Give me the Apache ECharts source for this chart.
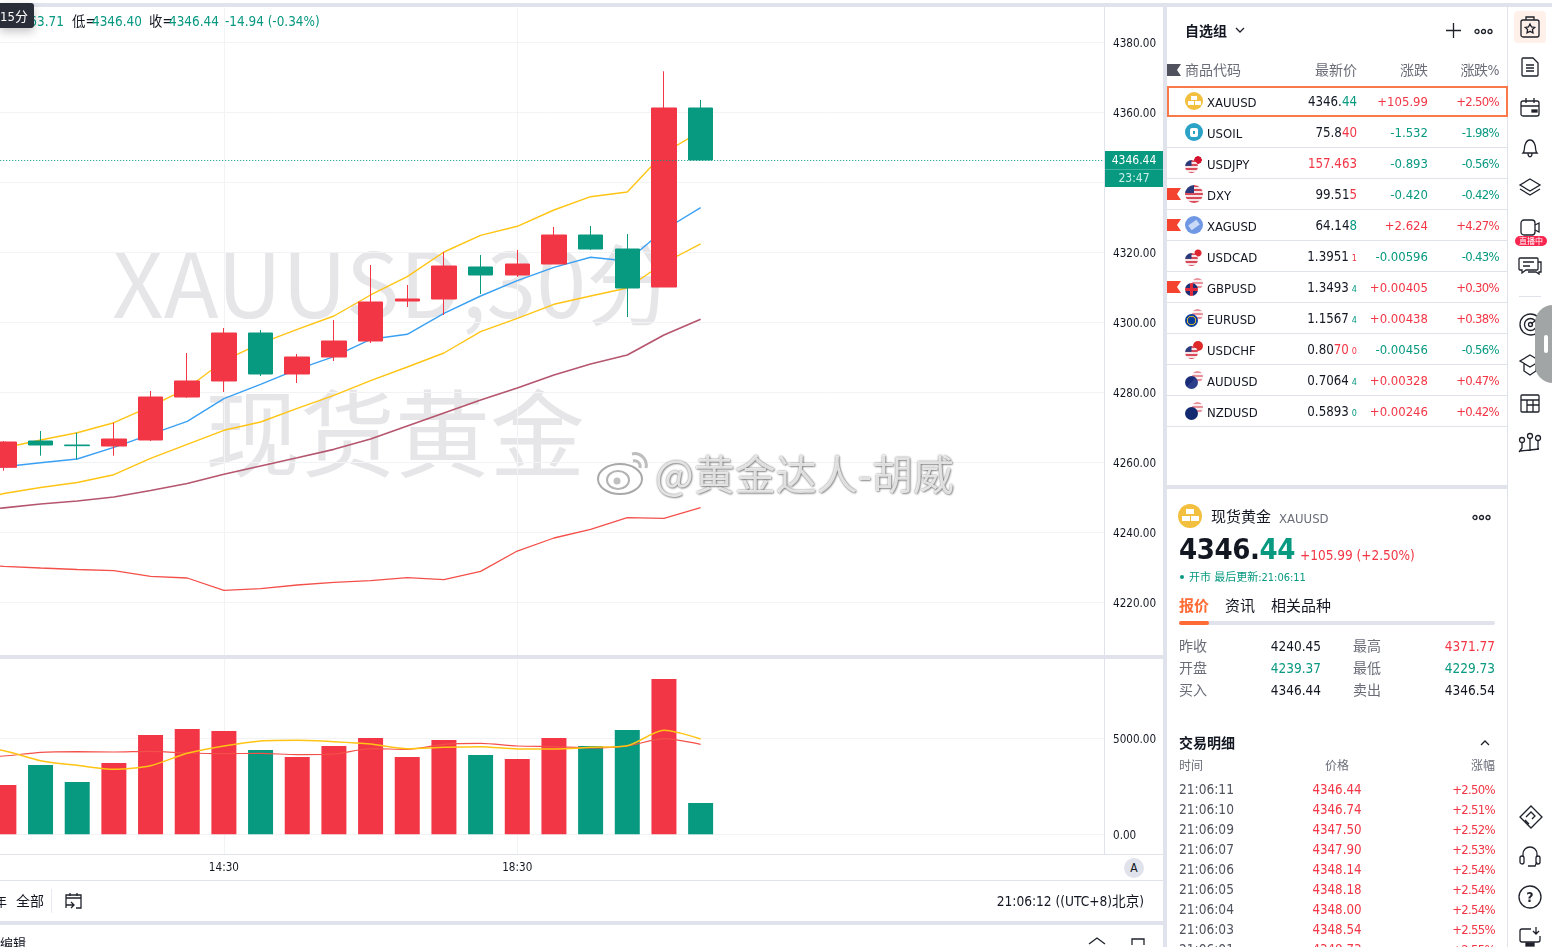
<!DOCTYPE html>
<html lang="zh">
<head>
<meta charset="utf-8">
<title>XAUUSD</title>
<script src="https://cdn.jsdelivr.net/npm/echarts@6/dist/echarts.min.js"></script>
<style>
html,body{margin:0;padding:0;width:1552px;height:947px;overflow:hidden;background:#fff;font-family:"DejaVu Sans Condensed","DejaVu Sans","Noto Sans CJK SC",sans-serif;font-stretch:condensed;color:#131722}
#mark,#chart,#ui{position:absolute;left:0;top:0;width:1552px;height:947px}
#ui{pointer-events:none}
.t{position:absolute;white-space:nowrap;transform:translateY(-50%);line-height:1}
.r{position:absolute;background:#e0e3eb}
#ui svg{position:absolute;overflow:visible}
.ic{position:absolute;border-radius:50%;overflow:hidden}
</style>
</head>
<body>
<div id="mark"></div>
<div id="chart"></div>
<div id="ui"></div>
<script>
// ----- chart data -----
const categories = ['11:00','11:30','12:00','12:30','13:00','13:30','14:00','14:30','15:00','15:30','16:00','16:30','17:00','17:30','18:00','18:30','19:00','19:30','20:00','20:30','21:00','21:30','22:00','22:30','23:00','23:30','00:00','00:30','01:00','01:30','02:00','02:30'];
const xTickLabels = ['14:30','18:30'];
const priceTicks = [4220,4240,4260,4280,4300,4320,4340,4360,4380];
const volumeTicks = [0,5000];
// [open, close, low, high]
const candles = [['-','-','-','-'],
 [4258.63,4265.86,4257.66,4266.14],[4266.14,4265.00,4261.94,4269.00],[4265.00,4264.80,4260.91,4268.51],
 [4264.71,4266.71,4261.94,4271.37],[4266.43,4278.71,4266.14,4280.43],[4278.71,4283.29,4278.51,4291.29],
 [4283.29,4297.00,4280.14,4298.43],[4297.00,4285.29,4284.71,4297.86],[4285.29,4290.14,4282.71,4291.00],
 [4290.14,4294.71,4289.00,4300.71],[4294.71,4305.86,4294.14,4316.43],[4306.14,4306.71,4304.43,4310.71],
 [4306.71,4316.14,4302.14,4320.14],[4315.86,4313.57,4308.14,4319.29],[4313.57,4316.71,4313.00,4320.71],
 [4316.71,4325.00,4316.71,4327.29],[4325.00,4321.00,4320.71,4327.57],[4321.00,4309.86,4301.57,4325.29],
 [4310.14,4361.29,4310.14,4371.77],[4361.29,4346.44,4346.40,4363.57]];
const upperBand = [4263.00,4264.14,4266.43,4268.51,4271.37,4276.06,4281.20,4289.09,4294.06,4298.06,4301.86,4307.86,4313.09,4320.14,4324.91,4327.49,4332.14,4335.94,4337.29,4348.43,4354.63];
const blueLine = [4257.86,4258.80,4259.94,4261.00,4264.34,4268.06,4271.77,4278.23,4282.34,4286.63,4290.23,4295.20,4296.63,4302.63,4307.57,4311.94,4315.77,4318.63,4317.57,4326.43,4332.80];
const lowerBand = [4248.71,4251.14,4252.86,4254.29,4256.51,4261.20,4265.20,4269.20,4271.57,4275.49,4279.20,4283.37,4287.29,4291.29,4297.37,4301.20,4305.20,4307.57,4309.86,4317.00,4322.43];
const maroonLine = [4245.86,4247.06,4248.14,4249.00,4250.14,4252.00,4254.00,4256.63,4259.00,4261.37,4263.77,4266.71,4270.43,4274.14,4277.86,4281.29,4285.00,4288.14,4290.71,4296.43,4300.91];
const redLine = [4231.00,4230.34,4229.86,4229.43,4229.09,4227.49,4227.00,4223.49,4223.94,4225.00,4225.77,4226.23,4227.09,4226.51,4228.91,4234.71,4238.43,4240.91,4244.23,4244.06,4247.09];
const volumes = ['-',2568,3609,2724,3713,5172,5484,5380,4391,4026,4599,5016,4026,4911,4130,3922,5016,4599,5432,8089,1630];
const volumeUp = [0,1,0,0,1,1,1,1,0,1,1,1,1,1,0,1,1,0,0,1,0];
const volYellow = [4500,4356,3835,3592,3384,3575,4217,4599,4860,4894,4825,4703,4460,4530,4564,4443,4443,4530,4616,5415,4964];
const volRed = [4000,4078,4269,4304,4287,4321,4235,4200,4217,4148,4182,4460,4426,4686,4738,4599,4564,4495,4599,4981,4686];
const lastPrice = 4346.44;

// ----- side panel data -----
const watchSymbols = ['XAUUSD','USOIL','USDJPY','DXY','XAGUSD','USDCAD','GBPUSD','EURUSD','USDCHF','AUDUSD','NZDUSD'];
const watchPriceParts = [['4346.','44','','g'],['75.8','40','','r'],['','157.463','','r'],['99.51','5','','r'],['64.14','8','','g'],['1.3951','','1','r'],['1.3493','','4','g'],['1.1567','','4','g'],['0.80','70','0','r'],['0.7064','','4','g'],['0.5893','','0','g']];
const watchChange = ['+105.99','-1.532','-0.893','-0.420','+2.624','-0.00596','+0.00405','+0.00438','-0.00456','+0.00328','+0.00246'];
const watchPct = ['+2.50%','-1.98%','-0.56%','-0.42%','+4.27%','-0.43%','+0.30%','+0.38%','-0.56%','+0.47%','+0.42%'];
const tradeTimes = ['21:06:11','21:06:10','21:06:09','21:06:07','21:06:06','21:06:05','21:06:04','21:06:03','21:06:01'];
const tradePrices = ['4346.44','4346.74','4347.50','4347.90','4348.14','4348.18','4348.00','4348.54','4348.73'];
const tradePct = ['+2.50%','+2.51%','+2.52%','+2.53%','+2.54%','+2.54%','+2.54%','+2.55%','+2.55%'];

const RED='#f23645', GREEN='#089981', GRID='#f2f3f5', SEP='#e0e3eb', INK='#131722';

// ----- watermarks below the chart -----
document.getElementById('mark').innerHTML =
 '<div class="t" style="left:112px;top:279px;font:400 90px \'Noto Sans CJK SC\';color:#e6e6e9">XAUUSD,30分</div>'+
 '<div class="t" style="left:205px;top:428px;font:400 95px \'Noto Sans CJK SC\';color:#e6e6e9">现货黄金</div>';

// ----- ECharts -----
const chart = echarts.init(document.getElementById('chart'), null, {renderer:'canvas', width:1552, height:947});
const gridLeft=-32.8, gridW=1136.8;
const showTick = (i)=> xTickLabels.indexOf(categories[i])>=0;
const ln = (data,color,w,xi=0)=>({type:'line',data,xAxisIndex:xi,yAxisIndex:xi,z:2,symbol:'none',silent:true,animation:false,lineStyle:{color,width:w}});
const yLabel = {margin:9,formatter:v=>'{a|'+v.toFixed(2)+'}',rich:{a:{fontSize:11.6,padding:[3,0,0,0],color:INK,fontFamily:'DejaVu Sans Condensed'}}};
chart.setOption({
 animation:false,
 grid:[{left:gridLeft,width:gridW,top:7.5,height:647.5,outerBoundsMode:'none'},{left:gridLeft,width:gridW,top:659,height:195,outerBoundsMode:'none'}],
 xAxis:[
  {type:'category',gridIndex:0,data:categories,boundaryGap:false,axisLine:{show:false},axisTick:{show:false},axisLabel:{show:false},splitLine:{show:true,interval:showTick,lineStyle:{color:GRID,width:1}}},
  {type:'category',gridIndex:1,data:categories,boundaryGap:false,axisLine:{show:false},axisTick:{show:false},axisLabel:{interval:showTick,margin:8,fontSize:11.6,color:INK,fontFamily:'DejaVu Sans Condensed'},splitLine:{show:true,interval:showTick,lineStyle:{color:GRID,width:1}}}
 ],
 yAxis:[
  {type:'value',gridIndex:0,position:'right',scale:true,min:4205,max:4390,axisLine:{show:true,lineStyle:{color:SEP,width:1}},axisTick:{show:false,customValues:priceTicks},axisLabel:Object.assign({customValues:priceTicks},yLabel),splitLine:{show:true,lineStyle:{color:GRID,width:1}}},
  {type:'value',gridIndex:1,position:'right',min:-1026,max:9130,axisLine:{show:true,lineStyle:{color:SEP,width:1}},axisTick:{show:false,customValues:volumeTicks},axisLabel:Object.assign({customValues:volumeTicks},yLabel),splitLine:{show:true,lineStyle:{color:GRID,width:1}}}
 ],
 series:[
  ln(upperBand,'#ffc414',1.4), ln(blueLine,'#3aa0f3',1.4), ln(lowerBand,'#ffc414',1.4), ln(maroonLine,'#b5566e',1.7), ln(redLine,'#f4504a',1.3),
  {type:'candlestick',xAxisIndex:0,yAxisIndex:0,z:5,data:candles,barWidth:25,silent:true,
   itemStyle:{color:RED,color0:GREEN,borderColor:RED,borderColor0:GREEN,borderWidth:1},
   markLine:{silent:true,symbol:'none',animation:false,z:6,label:{show:false},lineStyle:{color:GREEN,type:[1,2],width:1.2},data:[{yAxis:lastPrice}]}},
  {type:'bar',xAxisIndex:1,yAxisIndex:1,z:1,barWidth:25,silent:true,data:volumes.map((v,i)=>({value:v,itemStyle:{color:volumeUp[i]?RED:GREEN}}))},
  Object.assign(ln(volRed,'#f4504a',1.2,1),{smooth:0.25}),
  Object.assign(ln(volYellow,'#ffc414',1.5,1),{smooth:0.25})
 ]
});

// ----- HTML chrome -----
let h='';
const T=(x,y,s,css='',right=false)=>{h+=`<div class="t" style="${right?'right:'+(1552-x)+'px':'left:'+x+'px'};top:${y}px;${css}">${s}</div>`;};
const R=(x,y,w,ht,c=SEP,extra='')=>{h+=`<div class="r" style="left:${x}px;top:${y}px;width:${w}px;height:${ht}px;background:${c};${extra}"></div>`;};
const S=(x,y,w,ht,inner,extra='')=>{h+=`<svg style="left:${x}px;top:${y}px" width="${w}" height="${ht}" viewBox="0 0 ${w} ${ht}" fill="none" stroke="#1f222b" stroke-width="1.3" ${extra}>${inner}</svg>`;};

// frame bands
R(0,3,1552,4); R(0,655,1163,4); R(0,854,1163,1); R(0,880,1163,1); R(0,921,1163,4);
R(1163,3,4,944); R(1167,485,340,4); R(1507,7,1,940);

// legend + interval badge
const g=`color:${GREEN}`, rd=`color:${RED}`;
T(14,22,'4363.71',`font-size:13.4px;${g}`);
T(72,22,'低=',`font-size:13.4px`);T(92,22,'4346.40',`font-size:13.4px;${g}`);
T(149,22,'收=',`font-size:13.4px`);T(169,22,'4346.44',`font-size:13.4px;${g}`);
T(225,22,'-14.94 (-0.34%)',`font-size:13.4px;${g}`);
R(0,3,34,25,'#2a2e39','border-radius:0 3px 3px 0;box-shadow:0 4px 10px rgba(0,0,0,.22)');
T(0,16,'15分','font-size:13px;color:#fff');

// last price tag
R(1105,151,58,36,GREEN);R(1105,169,58,1,'#3fb39f');
T(1134,160,'<span style="display:block;transform:translateX(-50%)">4346.44</span>','font-size:12px;color:#fff');
T(1134,178,'<span style="display:block;transform:translateX(-50%)">23:47</span>','font-size:12px;color:#c9efe7');

// bottom of chart
h+=`<div style="position:absolute;left:1124px;top:858px;width:20px;height:20px;border-radius:50%;background:#e0e3eb;text-align:center;line-height:20px;font-size:12px">A</div>`;
T(-6,901,'年','font-size:13px');T(16,901,'全部','font-size:14px');R(51,889,1,24,'#e8eaef');
S(65,892,19,19,'<path d="M1 16V3h15v13h-5M5 1v3M12 1v3M1 6h15M1 13h8M6 10l3 3-3 3"/>');
T(1144,902,'21:06:12 ((UTC+8)北京)','font-size:13.6px',true);
T(0,943,'编辑','font-size:13px');
S(1088,937,18,8,'<path d="M1 7l8-6 8 6"/>');S(1131,937,14,8,'<path d="M1 8V2h12v6"/>');

// watch list header
T(1185,31,'自选组','font-size:14px;font-weight:700');
S(1235,26,10,8,'<path d="M1 2l4 4 4-4"/>');
S(1446,23,15,15,'<path d="M7.5 0v15M0 7.5h15"/>');
const dots=(x,y)=>S(x,y,19,7,'<circle cx="3" cy="3.5" r="2"/><circle cx="9.5" cy="3.5" r="2"/><circle cx="16" cy="3.5" r="2"/>');
dots(1474,28);
const flag=(y,c)=>h+=`<svg style="left:1167px;top:${y-6}px" width="14" height="12" viewBox="0 0 14 12" stroke="none"><path d="M0 0h14l-4 6 4 6H0z" fill="${c}"/></svg>`;
flag(70,'#50535e');flag(194,'#f4432f');flag(225,'#f4432f');flag(287,'#f4432f');
const H='color:#6a6d78;font-size:14px';
T(1185,70,'商品代码',H);T(1357,70,'最新价',H,true);T(1428,70,'涨跌',H,true);T(1499,70,'涨跌%',H+';letter-spacing:-.5px',true);

// icons for rows
const US='repeating-linear-gradient(180deg,#d9495a 0 2px,#f6e3e5 2px 4px)';
const flagBg={USD:US,JPY:'radial-gradient(circle,#d3132f 0 3.5px,#fff 4px)',CAD:'radial-gradient(circle,#e0242f 0 3px,#fff 4px)',GBP:'linear-gradient(90deg,transparent 42%,#e02a3c 42% 58%,transparent 58%),linear-gradient(0deg,transparent 42%,#e02a3c 42% 58%,transparent 58%),#1c2f74',EUR:'radial-gradient(circle,#0a3c9c 0 3.5px,#c9b23b 4px 4.5px,#0a3c9c 5px)',CHF:'#dd2a28',AUD:'linear-gradient(135deg,#1a2d78 50%,#2d3f8a 50%)',NZD:'#142a70'};
const US1='linear-gradient(#2b3a7a,#2b3a7a) 0 0/50% 45% no-repeat,'+US;
const circ=(x,y,d,bg,op=1)=>{h+=`<div class="ic" style="left:${x}px;top:${y}px;width:${d}px;height:${d}px;background:${bg};opacity:${op}"></div>`;};
watchSymbols.forEach((s,i)=>{
 const cy=101+31*i, xi=1185;
 if(s==='XAUUSD'){circ(xi,cy-9,18,'#f2bf3f');R(xi+6,cy-5,6,4,'#fff');R(xi+3,cy,6,4,'#fff');R(xi+9.5,cy,6,4,'#fff');}
 else if(s==='USOIL'){circ(xi,cy-9,18,'#2ba3c6');R(xi+5,cy-4.5,8,9,'#fff','border-radius:2px');R(xi+8,cy-1.5,2,3,'#2ba3c6');}
 else if(s==='XAGUSD'){circ(xi,cy-9,18,'#6f97e4');R(xi+4,cy-3,10,6,'#c9d9f7','transform:rotate(-35deg)');}
 else if(s==='DXY'){circ(xi,cy-9,18,US1);}
 else{
  const a=s.slice(0,3),b=s.slice(3);
  if(a==='USD'){circ(xi+8,cy-8,10,flagBg[b]);circ(xi,cy-3,13,US1);}
  else{circ(xi+7,cy-9,11,flagBg[b],.6);circ(xi,cy-4,13,flagBg[a]);}
 }
 T(1207,cy+1,s,'font-size:13px');
 const p=watchPriceParts[i], col=p[3]==='g'?GREEN:RED;
 T(1357,cy+1,`${p[0]}<span style="color:${col}">${p[1]}</span>${p[2]?`<span style="color:${col};font-size:9px;margin-left:3px">${p[2]}</span>`:''}`,'font-size:13.2px',true);
 const cc=watchChange[i][0]==='+'?RED:GREEN;
 T(1428,cy,watchChange[i],`font-size:13px;color:${cc}`,true);
 const pc=watchPct[i][0]==='+'?RED:GREEN;
 T(1499,cy,watchPct[i],`font-size:13px;letter-spacing:-.7px;color:${pc}`,true);
 if(i>0)R(1167,cy+15,340,1);
});
h+=`<div style="position:absolute;left:1167px;top:86px;width:337px;height:27px;border:2px solid #f9794b"></div>`;

// detail panel
circ(1178,504,24,'#f2bf3f');R(1186,509,8,5,'#fff');R(1182,516,8,5,'#fff');R(1191,516,8,5,'#fff');
T(1211,517,'现货黄金','font-size:15px');T(1279,518,'XAUUSD','font-size:13px;color:#6a6d78');
dots(1472,514);
T(1179,549,`4346.<span style="color:${GREEN}">44</span>`,'font-size:29px;font-weight:700;font-family:\'DejaVu Sans\',sans-serif;letter-spacing:-.4px');
T(1300,556,'+105.99 (+2.50%)',`font-size:13.5px;${rd}`);
circ(1180,575,4,GREEN);T(1189,577,'开市 最后更新:21:06:11',`font-size:11px;${g}`);
T(1179,606,'报价','font-size:15px;font-weight:700;color:#ff6b35');T(1225,606,'资讯','font-size:15px');T(1271,606,'相关品种','font-size:15px');
R(1179,621,316,4,'#e0e3eb','border-radius:2px');R(1179,621,30,4,'#ff6b35','border-radius:2px');
const L='font-size:14px;color:#6a6d78', V='font-size:13.5px';
[[646,'昨收','4240.45',INK,'最高','4371.77',RED],[668,'开盘','4239.37',GREEN,'最低','4229.73',GREEN],[690,'买入','4346.44',INK,'卖出','4346.54',INK]].forEach(r=>{
 T(1179,r[0],r[1],L);T(1321,r[0]+1,r[2],V+';color:'+r[3],true);T(1353,r[0],r[4],L);T(1495,r[0]+1,r[5],V+';color:'+r[6],true);
});
T(1179,743,'交易明细','font-size:14px;font-weight:700');
S(1480,740,10,6,'<path d="M1 5l4-4 4 4"/>');
T(1179,766,'时间','font-size:12px;color:#6a6d78');T(1337,766,'<span style="display:block;transform:translateX(-50%)">价格</span>','font-size:12px;color:#6a6d78');T(1495,766,'涨幅','font-size:12px;color:#6a6d78',true);
tradeTimes.forEach((tm,i)=>{
 const y=789+20*i;
 T(1179,y+1,tm,'font-size:13.6px;color:#50535e');
 T(1337,y+1,`<span style="display:block;transform:translateX(-50%)">${tradePrices[i]}</span>`,`font-size:13.2px;${rd}`);
 T(1495,y,tradePct[i],`font-size:13px;letter-spacing:-.7px;${rd}`,true);
});

// right icon strip
R(1514,11,32,32,'#fff0ea','border-radius:4px');
S(1520,16,20,22,'<rect x="1" y="4" width="18" height="17" rx="2"/><path d="M6 4V1h8v3M10 8l1.5 3 3.2.4-2.3 2.2.6 3.2-3-1.5-3 1.5.6-3.2-2.3-2.2 3.2-.4z"/>','style="stroke:#f9794b"');
S(1521,57,18,20,'<path d="M1 2a1 1 0 0 1 1-1h10l5 5v12a1 1 0 0 1-1 1H2a1 1 0 0 1-1-1zM5 8h8M5 11h8M5 14h8"/>');
S(1520,98,20,19,'<rect x="1" y="3" width="18" height="15" rx="2"/><path d="M1 8h18M6 0v5M14 0v5"/><rect x="12" y="12" width="5" height="2" fill="#1f222b"/>');
S(1521,138,18,21,'<path d="M2 15c2-2 1-5 2-8s3-5 5-5 4 2 5 5 0 6 2 8zM7 15c0 5 4 5 4 0"/>');
S(1519,178,22,18,'<path d="M11 1l10 6-10 6L1 7zM1 11l10 6 10-6"/>');
S(1520,219,20,17,'<rect x="1" y="1" width="14" height="15" rx="3"/><path d="M15 6l4-2v9l-4-2"/>');
R(1515,236,32,10,'#f8254f','border-radius:5px');T(1519,241.5,'直播中','font-size:8px;color:#fff');
S(1518,257,25,19,'<path d="M1 2a1 1 0 0 1 1-1h17a1 1 0 0 1 1 1v10a1 1 0 0 1-1 1H8l-4 3v-3H2a1 1 0 0 1-1-1zM5 5h11M5 9h7M20 5h3v10h-2v2l-3-2H10"/>');
R(1519,296,22,1);
S(1519,313,23,23,'<circle cx="11.5" cy="11.5" r="10.5"/><circle cx="11.5" cy="11.5" r="6"/><circle cx="11.5" cy="11.5" r="2"/><path d="M12 11l9-7"/>');
S(1519,354,22,22,'<path d="M11 1l10 6-10 6L1 7zM5 10v7l6 4 6-4v-7"/>');
S(1520,394,20,19,'<rect x="1" y="1" width="18" height="17" rx="1"/><path d="M1 6h18M7 6v12M13 6v12M7 11h12"/>');
S(1518,433,24,20,'<circle cx="4" cy="7" r="2.5"/><circle cx="12" cy="3" r="2.5"/><circle cx="20" cy="5" r="2.5"/><path d="M4 10v5l-3 4M12 6v12M20 8v8M2 18l10-1 9-1"/>');
R(1535,305,20,78,'#a2a5a6','border-radius:18px 0 0 18px');R(1544,335,4,18,'#fff','border-radius:2px');
S(1518,804,26,26,'<path d="M13 2l11 11-11 11L2 13zM8 13l5-5 4 4-3 3M11 20l-4-4"/>');
S(1519,845,22,24,'<path d="M4 12V9a7 7 0 0 1 14 0v3M9 21h7l2-4"/><rect x="1" y="11" width="4" height="8" rx="2"/><rect x="17" y="11" width="4" height="8" rx="2"/>');
S(1518,885,24,24,'<circle cx="12" cy="12" r="11"/><text x="12" y="17" text-anchor="middle" font-size="14" font-weight="700" fill="#1f222b" stroke="none">?</text>');
S(1519,927,22,20,'<path d="M12 2H3a2 2 0 0 0-2 2v9a2 2 0 0 0 2 2h16a2 2 0 0 0 2-2V9M17 0v7M14 4l3 3 3-3"/><rect x="7" y="16" width="8" height="3" fill="#1f222b"/>');

// weibo watermark on top
h+=`<svg style="left:596px;top:450px" width="56" height="46" viewBox="0 0 56 46"><ellipse cx="24" cy="29" rx="22" ry="15" fill="rgba(255,255,255,.75)" stroke="#a9a9a9" stroke-width="2"/><ellipse cx="22" cy="30" rx="11" ry="9" fill="none" stroke="#b3b3b3" stroke-width="2"/><circle cx="21" cy="31" r="3.5" fill="#c0c0c0"/><path d="M36 4c8-2 16 5 14 14M37 11c4-1 8 2 7 7" fill="none" stroke="#bdbdbd" stroke-width="3"/></svg>`;
T(655,472,'@黄金达人-胡威',"font:400 41px 'Noto Sans CJK SC';color:rgba(255,255,255,.8);text-shadow:0 0 2px rgba(0,0,0,.55),1px 1px 2px rgba(0,0,0,.35)");

document.getElementById('ui').innerHTML=h;
</script>
</body>
</html>
